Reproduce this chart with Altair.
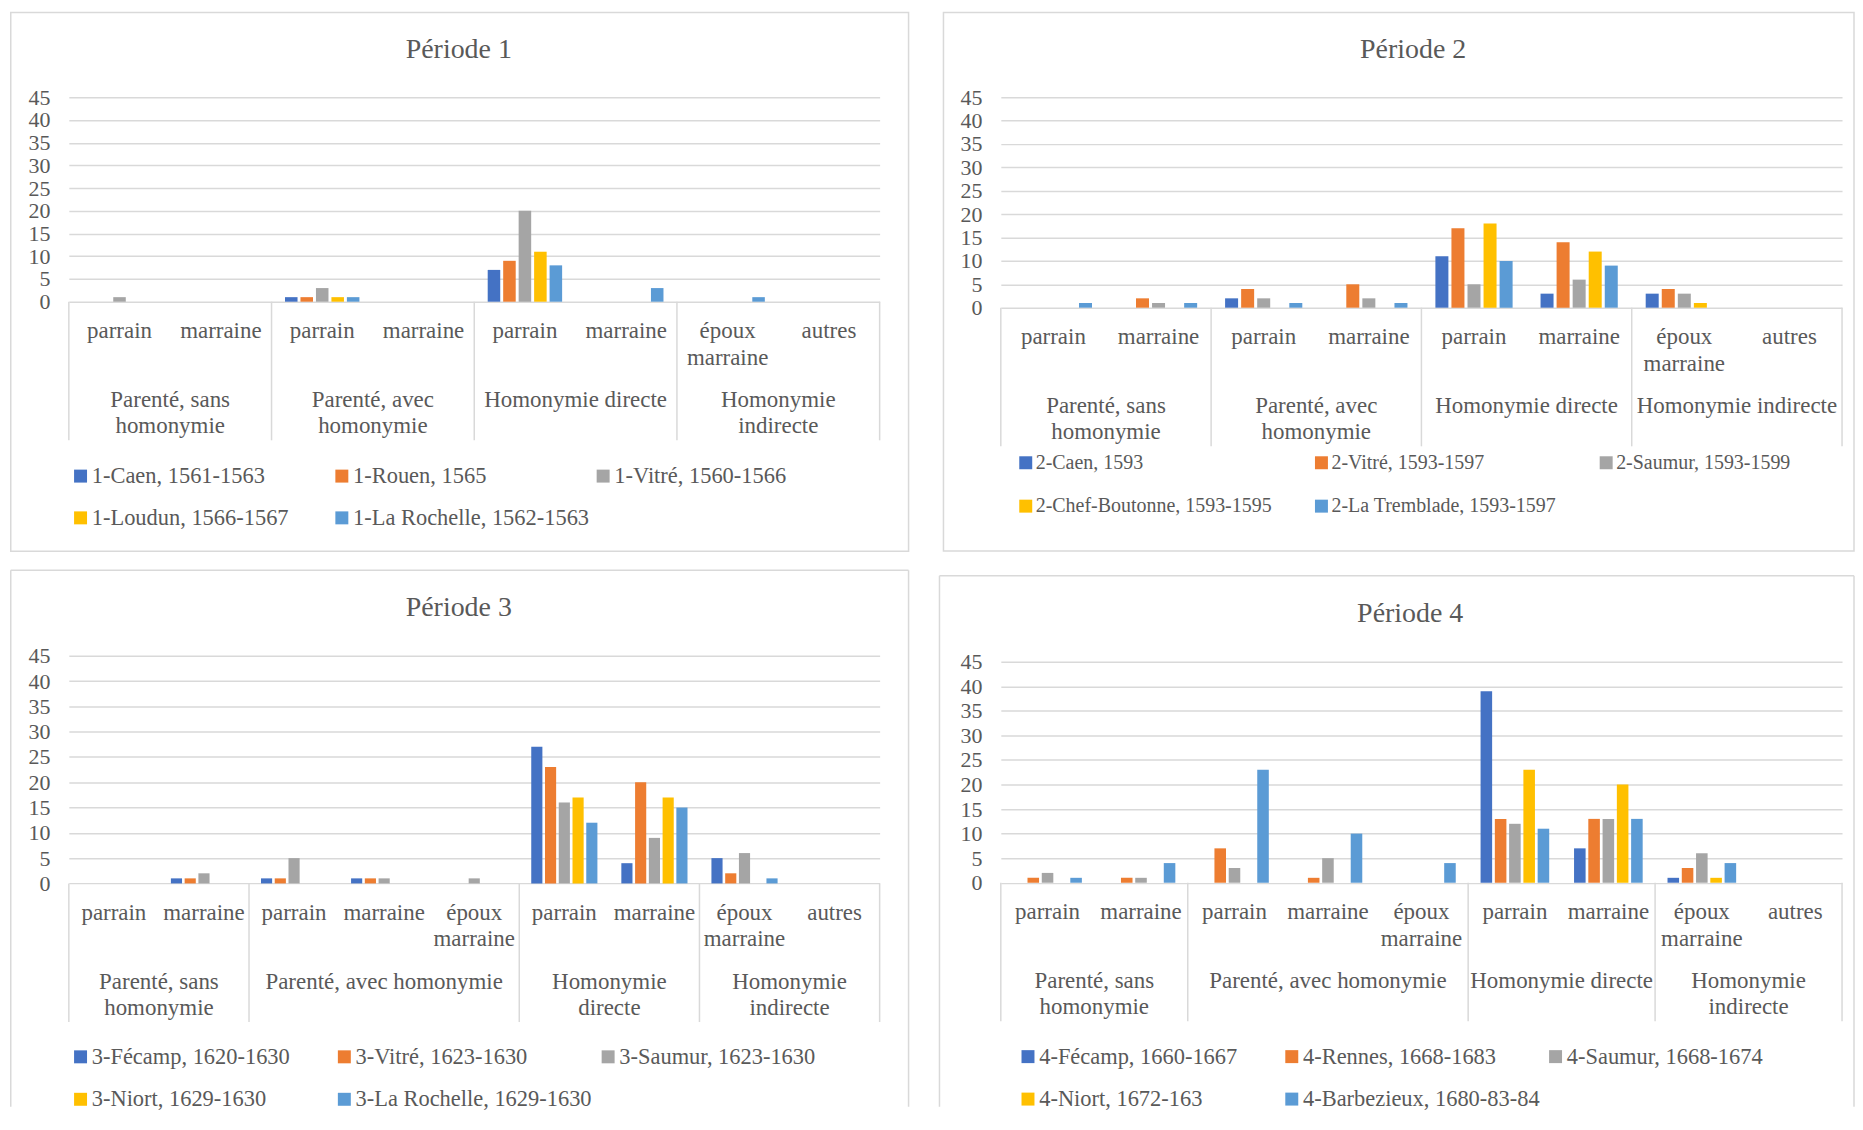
import altair as alt
import pandas as pd

FONT = "Liberation Serif"
TXT = "#595959"
GRID = "#D9D9D9"
COLORS = ["#4472C4", "#ED7D31", "#A5A5A5", "#FFC000", "#5B9BD5"]

# ---------------- data ----------------
# Panel 1
p1_title = "Période 1"
p1_groups = ["Parenté, sans\nhomonymie", "Parenté, avec\nhomonymie", "Homonymie directe", "Homonymie\nindirecte"]
p1_leaves = [["parrain", "marraine"], ["parrain", "marraine"], ["parrain", "marraine"], ["époux\nmarraine", "autres"]]
p1_series = ["1-Caen, 1561-1563", "1-Rouen, 1565", "1-Vitré, 1560-1566", "1-Loudun, 1566-1567", "1-La Rochelle, 1562-1563"]
p1_caen = [0, 0, 1, 0, 7, 0, 0, 0]
p1_rouen = [0, 0, 1, 0, 9, 0, 0, 0]
p1_vitre = [1, 0, 3, 0, 20, 0, 0, 0]
p1_loudun = [0, 0, 1, 0, 11, 0, 0, 0]
p1_rochelle = [0, 0, 1, 0, 8, 3, 1, 0]

# Panel 2
p2_title = "Période 2"
p2_groups = ["Parenté, sans\nhomonymie", "Parenté, avec\nhomonymie", "Homonymie directe", "Homonymie indirecte"]
p2_leaves = [["parrain", "marraine"], ["parrain", "marraine"], ["parrain", "marraine"], ["époux\nmarraine", "autres"]]
p2_series = ["2-Caen, 1593", "2-Vitré, 1593-1597", "2-Saumur, 1593-1599", "2-Chef-Boutonne, 1593-1595", "2-La Tremblade, 1593-1597"]
p2_caen = [0, 0, 2, 0, 11, 3, 3, 0]
p2_vitre = [0, 2, 4, 5, 17, 14, 4, 0]
p2_saumur = [0, 1, 2, 2, 5, 6, 3, 0]
p2_chef = [0, 0, 0, 0, 18, 12, 1, 0]
p2_tremblade = [1, 1, 1, 1, 10, 9, 0, 0]

# Panel 3
p3_title = "Période 3"
p3_groups = ["Parenté, sans\nhomonymie", "Parenté, avec homonymie", "Homonymie\ndirecte", "Homonymie\nindirecte"]
p3_leaves = [["parrain", "marraine"], ["parrain", "marraine", "époux\nmarraine"], ["parrain", "marraine"], ["époux\nmarraine", "autres"]]
p3_series = ["3-Fécamp, 1620-1630", "3-Vitré, 1623-1630", "3-Saumur, 1623-1630", "3-Niort, 1629-1630", "3-La Rochelle, 1629-1630"]
p3_fecamp = [0, 1, 1, 1, 0, 27, 4, 5, 0]
p3_vitre = [0, 1, 1, 1, 0, 23, 20, 2, 0]
p3_saumur = [0, 2, 5, 1, 1, 16, 9, 6, 0]
p3_niort = [0, 0, 0, 0, 0, 17, 17, 0, 0]
p3_rochelle = [0, 0, 0, 0, 0, 12, 15, 1, 0]

# Panel 4
p4_title = "Période 4"
p4_groups = ["Parenté, sans\nhomonymie", "Parenté, avec homonymie", "Homonymie directe", "Homonymie\nindirecte"]
p4_leaves = [["parrain", "marraine"], ["parrain", "marraine", "époux\nmarraine"], ["parrain", "marraine"], ["époux\nmarraine", "autres"]]
p4_series = ["4-Fécamp, 1660-1667", "4-Rennes, 1668-1683", "4-Saumur, 1668-1674", "4-Niort, 1672-163", "4-Barbezieux, 1680-83-84"]
p4_fecamp = [0, 0, 0, 0, 0, 39, 7, 1, 0]
p4_rennes = [1, 1, 7, 1, 0, 13, 13, 3, 0]
p4_saumur = [2, 1, 3, 5, 0, 12, 13, 6, 0]
p4_niort = [0, 0, 0, 0, 0, 23, 20, 1, 0]
p4_barbezieux = [1, 4, 23, 10, 4, 11, 13, 4, 0]

Y_TICKS = [0, 5, 10, 15, 20, 25, 30, 35, 40, 45]


def panel(title, groups, leaves, series, values, width, h45, top_pad,
          frame_l, frame_t, frame_r, frame_b, open_bottom,
          title_x, leg_x, leg_y, leg_font, leg_colpad, leg_rowpad, leg_align):
    # h45: pixel height of the 0..45 gridline span; top_pad: empty room above it
    height = h45 + top_pad
    ymax = 45 * height / h45
    leaf_ids, leaf_labels, grp_centers, seps = [], [], [], [0]
    start = 0
    for gi, lv in enumerate(leaves):
        for li, lab in enumerate(lv):
            leaf_ids.append(f"g{gi}l{li}")
            leaf_labels.append(lab)
        grp_centers.append(start + len(lv) / 2)
        start += len(lv)
        seps.append(start)
    n = start

    rows = []
    for s, vals in zip(series, values):
        for lid, v in zip(leaf_ids, vals):
            rows.append({"leaf": lid, "series": s, "value": v})
    bar_df = pd.DataFrame(rows)
    leaf_df = pd.DataFrame({"leaf": leaf_ids, "label": leaf_labels})
    grp_df = pd.DataFrame({"center": grp_centers, "label": groups})
    sep_df = pd.DataFrame({"pos": seps})
    one = pd.DataFrame({"t": [title]})

    xband = alt.Scale(domain=leaf_ids, paddingInner=0, paddingOuter=0)
    xq = alt.Scale(domain=[0, n], nice=False, zero=False)

    bars = alt.Chart(bar_df).transform_filter("datum.value > 0").mark_bar().encode(
        x=alt.X("leaf:N", scale=xband, axis=None, sort=leaf_ids),
        xOffset=alt.XOffset("series:N", sort=series,
                            scale=alt.Scale(domain=series, paddingInner=0.19, paddingOuter=0.87)),
        y=alt.Y("value:Q", scale=alt.Scale(domain=[0, ymax], nice=False),
                axis=alt.Axis(values=Y_TICKS, grid=True, gridColor=GRID, gridWidth=1.5,
                              domain=False, ticks=False, labelFont=FONT, labelFontSize=22,
                              labelColor=TXT, labelPadding=19, title=None)),
        color=alt.Color("series:N", sort=series,
                        scale=alt.Scale(domain=series, range=COLORS),
                        legend=alt.Legend(orient="none", legendX=leg_x, legendY=height + leg_y,
                                          direction="horizontal",
                                          columns=3, gridAlign=leg_align, title=None,
                                          symbolType="square", symbolSize=169,
                                          symbolStrokeWidth=0, labelFont=FONT,
                                          labelFontSize=leg_font, labelColor=TXT,
                                          labelLimit=500, labelOffset=0,
                                          columnPadding=leg_colpad, rowPadding=leg_rowpad,
                                          padding=0)),
    )

    leaf_txt = alt.Chart(leaf_df).mark_text(
        font=FONT, fontSize=23, color=TXT, baseline="middle", align="center",
        lineBreak="\n", lineHeight=26.5).encode(
        x=alt.X("leaf:N", scale=xband, axis=None, sort=leaf_ids),
        y=alt.value(height + 29.5),
        text="label:N",
    )

    grp_txt = alt.Chart(grp_df).mark_text(
        font=FONT, fontSize=23, color=TXT, baseline="middle", align="center",
        lineBreak="\n", lineHeight=26.5).encode(
        x=alt.X("center:Q", scale=xq, axis=None),
        y=alt.value(height + 98.5),
        text="label:N",
    )

    sep = alt.Chart(sep_df).mark_rule(color=GRID, strokeWidth=1.5).encode(
        x=alt.X("pos:Q", scale=xq, axis=None),
        y=alt.value(height),
        y2=alt.value(height + 139),
    )

    ttl = alt.Chart(one).mark_text(font=FONT, fontSize=28, color=TXT,
                                   baseline="middle", align="center").encode(
        x=alt.value(title_x), y=alt.value(top_pad - 47.5), text="t:N")

    ft = top_pad + frame_t
    if open_bottom:
        fr = [
            alt.Chart(one).mark_rule(color=GRID, strokeWidth=1.5).encode(
                x=alt.value(frame_l), x2=alt.value(width + frame_r), y=alt.value(ft)),
            alt.Chart(one).mark_rule(color=GRID, strokeWidth=1.5).encode(
                x=alt.value(frame_l), y=alt.value(ft), y2=alt.value(height + frame_b)),
            alt.Chart(one).mark_rule(color=GRID, strokeWidth=1.5).encode(
                x=alt.value(width + frame_r), y=alt.value(ft), y2=alt.value(height + frame_b)),
        ]
    else:
        fr = [alt.Chart(one).mark_rect(fillOpacity=0, stroke=GRID, strokeWidth=1.5).encode(
            x=alt.value(frame_l), x2=alt.value(width + frame_r),
            y=alt.value(ft), y2=alt.value(height + frame_b))]

    return alt.layer(*fr, bars, leaf_txt, grp_txt, sep, ttl).resolve_scale(
        x="independent").properties(width=width, height=height)


W1, W2 = 813, 843.5
p1 = panel(p1_title, p1_groups, p1_leaves, p1_series,
           [p1_caen, p1_rouen, p1_vitre, p1_loudun, p1_rochelle],
           W1, 205, 0, -58.25, -84.95, 29, 250.3, False,
           391, 0.5, 163.5, 22.5, 2, 19, "all")
p2 = panel(p2_title, p2_groups, p2_leaves, p2_series,
           [p2_caen, p2_vitre, p2_saumur, p2_chef, p2_tremblade],
           W2, 211, 0, -57.5, -84.95, 12, 244, False,
           413.5, 15, 145.5, 20, 39.5, 23.5, "each")
p3 = panel(p3_title, p3_groups, p3_leaves, p3_series,
           [p3_fecamp, p3_vitre, p3_saumur, p3_niort, p3_rochelle],
           W1, 228.3, 0, -58.25, -85.7, 29, 224, True,
           391, 0.5, 162.5, 22.5, 4.5, 19.7, "all")
p4 = panel(p4_title, p4_groups, p4_leaves, p4_series,
           [p4_fecamp, p4_rennes, p4_saumur, p4_niort, p4_barbezieux],
           W2, 221.6, 6, -61.5, -86.2, 12, 224.7, True,
           410.5, 16, 163, 22.5, 4.5, 19.7, "all")

chart = alt.concat(p1, p2, p3, p4, columns=2, bounds="flush",
                   spacing={"row": 349, "column": 121.5}).resolve_scale(
    x="independent", y="independent", xOffset="independent", color="independent"
).resolve_legend(color="independent").properties(
    padding={"left": 2, "top": 2, "right": 0, "bottom": 0},
    background="white",
).configure_view(stroke=None)

chart.save("out.html", embed_options={"renderer": "svg", "actions": False})
